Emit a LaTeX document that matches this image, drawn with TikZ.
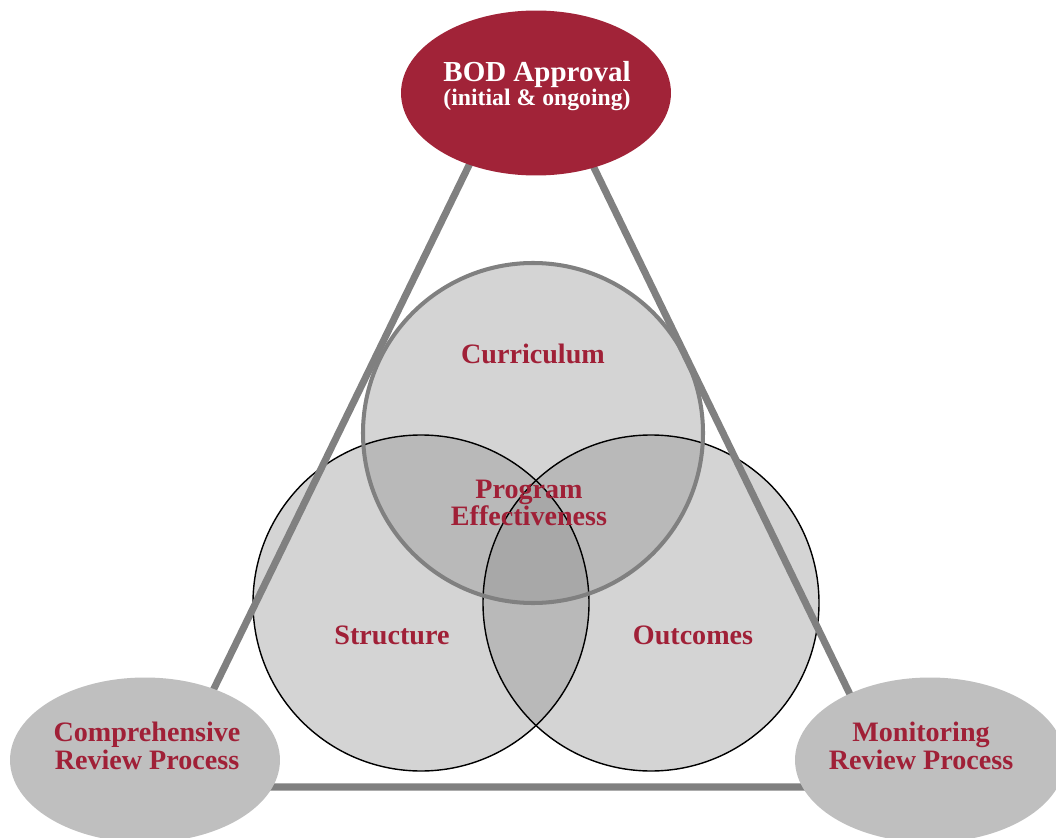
\documentclass[tikz,border=0pt]{standalone}
\usepackage{fontspec}
\setmainfont{Liberation Serif}
\usetikzlibrary{shapes.geometric}
\definecolor{bodred}{RGB}{161,35,56}
\definecolor{txtred}{RGB}{160,32,55}
\definecolor{ringgray}{RGB}{139,139,139}
\definecolor{linegray}{RGB}{128,128,128}
\definecolor{procgray}{RGB}{191,191,191}
\tikzset{
  ring/.style={fill=ringgray, fill opacity=0.37},
  proc/.style={ellipse, fill=procgray, minimum width=5.4cm, minimum height=3.3cm,
    text=txtred, align=center, font=\fontsize{16}{13.5}\selectfont\bfseries},
  lbl/.style={text=txtred, align=center, font=\fontsize{16}{13.5}\selectfont\bfseries}
}

\begin{document}
\begin{tikzpicture}[x=0.02cm,y=-0.02cm]
  \useasboundingbox (0,0) rectangle (1056,838);
  \clip (0,0) rectangle (1056,838);

  % the three rings
  \fill[ring] (533,433) circle (170);
  \fill[ring] (421,603) circle (168);
  \fill[ring] (651,603) circle (168);
  \draw[line width=0.8pt] (421,603) circle (168);
  \draw[line width=0.8pt] (651,603) circle (168);
  \draw[linegray, line width=2.3pt] (533,433) circle (170);

  \node[lbl] (curriculum) at (533,354) {Curriculum};
  \node[lbl] (effect) at (529,503) {Program\\Effectiveness};
  \node[lbl] (structure) at (392,635) {Structure};
  \node[lbl] (outcomes) at (693,635) {Outcomes};

  % triangle behind the ellipses
  \coordinate (apex) at (531,38);
  \coordinate (lcorner) at (166,787);
  \coordinate (rcorner) at (895,787);
  \draw[linegray, line width=4pt] (apex) -- (lcorner) -- (rcorner) -- cycle;

  \node[ellipse, fill=bodred, minimum width=5.4cm, minimum height=3.3cm] (bod) at (536,93) {};
  \node[text=white, align=center] (bodtext) at (537,86)
    {\fontsize{16.5}{18}\selectfont\bfseries BOD Approval\\
     \fontsize{13.5}{14}\selectfont\bfseries (initial \& ongoing)};

  \node[proc] (comp) at (145,760) {};
  \node[lbl] (comptext) at (147,746) {Comprehensive\\Review Process};
  \node[proc] (monit) at (930,760) {};
  \node[lbl] (monittext) at (921,746) {Monitoring\\Review Process};
\end{tikzpicture}
\end{document}
